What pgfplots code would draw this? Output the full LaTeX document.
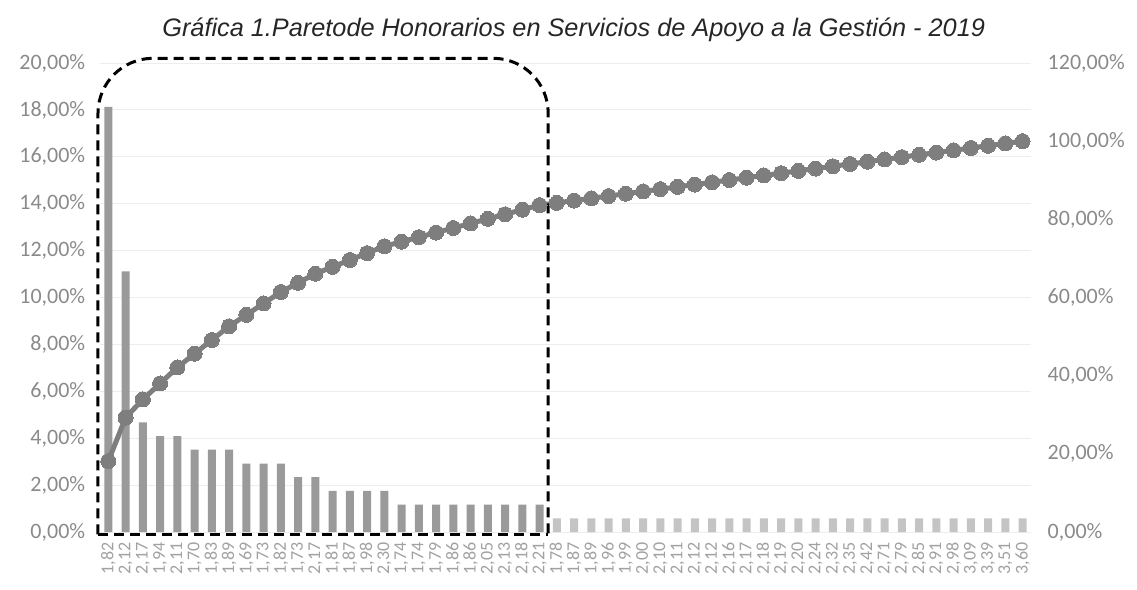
\documentclass[border=0pt]{standalone}
\usepackage{fontspec}
\setmainfont{Carlito}
\newfontfamily\titlefont{Liberation Sans}
\usepackage{pgfplots}
\usepackage{pgfplotstable}
\pgfplotsset{compat=1.18}

\definecolor{barin}{HTML}{9A9A9A}
\definecolor{barout}{HTML}{C4C4C4}
\definecolor{cumline}{HTML}{7E7E7E}
\definecolor{ticktxt}{HTML}{8A8A8A}

% x = category index, pct = share (%), cum = cumulative share (%)
\pgfplotstableread{
x pct cum
0 18.13 18.13
1 11.11 29.24
2 4.68 33.92
3 4.09 38.01
4 4.09 42.11
5 3.51 45.61
6 3.51 49.12
7 3.51 52.63
8 2.92 55.56
9 2.92 58.48
10 2.92 61.40
11 2.34 63.74
12 2.34 66.08
13 1.75 67.84
14 1.75 69.59
15 1.75 71.35
16 1.75 73.10
17 1.17 74.27
18 1.17 75.44
19 1.17 76.61
20 1.17 77.78
21 1.17 78.95
22 1.17 80.12
23 1.17 81.29
24 1.17 82.46
25 1.17 83.63
26 0.58 84.21
27 0.58 84.80
28 0.58 85.38
29 0.58 85.96
30 0.58 86.55
31 0.58 87.13
32 0.58 87.72
33 0.58 88.30
34 0.58 88.89
35 0.58 89.47
36 0.58 90.06
37 0.58 90.64
38 0.58 91.23
39 0.58 91.81
40 0.58 92.40
41 0.58 92.98
42 0.58 93.57
43 0.58 94.15
44 0.58 94.74
45 0.58 95.32
46 0.58 95.91
47 0.58 96.49
48 0.58 97.08
49 0.58 97.66
50 0.58 98.25
51 0.58 98.83
52 0.58 99.42
53 0.58 100.00
}\pareto

\pgfplotsset{
  common/.style={
    scale only axis, width=931.5pt, height=469pt,
    xmin=-0.5, xmax=53.5,
    axis line style={draw=none},
    major tick style={draw=none},
    /pgf/number format/.cd, use comma, fixed, fixed zerofill, precision=2,
    assume math mode=true,
  },
}

\begin{document}
\begin{tikzpicture}
\useasboundingbox (-99.7pt,-57pt) rectangle (1037.3pt,532pt);

\begin{axis}[
  common,
  ymin=0, ymax=20,
  ytick={0,2,...,20},
  ymajorgrids,
  grid style={color=black!7, line width=0.8pt},
  yticklabel={\pgfmathprintnumber{\tick}\%},
  yticklabel style={font=\fontsize{22}{26}\selectfont, text=ticktxt, anchor=east, xshift=-11pt},
  xtick={0,...,53},
  xticklabels={{1,82},{2,12},{2,17},{1,94},{2,11},{1,70},{1,83},{1,89},{1,69},{1,73},
    {1,82},{1,73},{2,17},{1,81},{1,87},{1,98},{2,30},{1,74},{1,74},{1,79},
    {1,86},{1,86},{2,05},{2,13},{2,18},{2,21},{1,78},{1,87},{1,89},{1,96},
    {1,99},{2,00},{2,10},{2,11},{2,12},{2,12},{2,16},{2,17},{2,18},{2,19},
    {2,20},{2,24},{2,32},{2,35},{2,42},{2,71},{2,79},{2,85},{2,91},{2,98},
    {3,09},{3,39},{3,51},{3,60}},
  xticklabel style={font=\fontsize{18}{20}\selectfont, text=ticktxt!80, rotate=90, anchor=east, xshift=-7pt},
]
  \addplot[ybar, bar width=8pt, bar shift=0pt, fill=barin, draw=none]
    table[x=x, y=pct, restrict x to domain=0:25] {\pareto};
  \addplot[ybar, bar width=8pt, bar shift=0pt, fill=barout, draw=none]
    table[x=x, y=pct, restrict x to domain=26:53] {\pareto};
\end{axis}

\begin{axis}[
  common,
  ymin=0, ymax=120,
  ytick={0,20,...,120},
  axis y line*=right,
  axis x line=none,
  yticklabel={\pgfmathprintnumber{\tick}\%},
  yticklabel style={font=\fontsize{22}{26}\selectfont, text=ticktxt, anchor=west, xshift=13pt},
  clip=false,
]
  \addplot[color=cumline, line width=5pt, mark=*, mark size=7.5pt,
    mark options={fill=cumline, draw=cumline, line width=0pt}]
    table[x=x, y=cum] {\pareto};
  % dashed frame round the first 26 categories
  \draw[black, line width=3pt, dash pattern=on 10pt off 6pt, rounded corners=55pt]
    (axis cs:-0.6,-0.6) -- (axis cs:-0.6,121.2) -- (axis cs:25.5,121.2) -- (axis cs:25.5,-0.6);
  \draw[black, line width=3pt, dash pattern=on 10pt off 6pt]
    (axis cs:-0.6,-0.6) -- (axis cs:25.5,-0.6);
\end{axis}

\node[font=\titlefont\itshape\fontsize{25.3}{29}\selectfont, text=black!85] at (474pt,502pt)
  {Gráfica 1.Paretode Honorarios en Servicios de Apoyo a la Gestión - 2019};
\end{tikzpicture}
\end{document}
